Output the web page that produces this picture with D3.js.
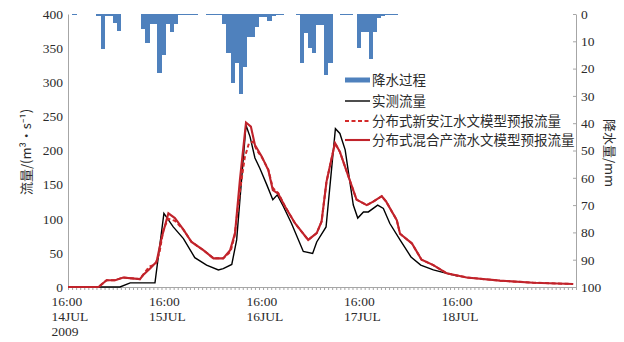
<!DOCTYPE html>
<html><head><meta charset="utf-8">
<script src="https://cdn.jsdelivr.net/npm/d3@7"></script>
<style>
html,body{margin:0;padding:0;background:#fff;}
svg{display:block;}
</style></head>
<body>
<svg id="chart" width="624" height="342"></svg>
<script>
// ---- data (hours since 16:00 14 JUL 2009) ----
const tickHours = [0, 24, 48, 72, 96];
const tickTimeLabels = ["16:00", "16:00", "16:00", "16:00", "16:00"];
const tickDateLabels = ["14JUL", "15JUL", "16JUL", "17JUL", "18JUL"];
const tickYearLabels = ["2009", "", "", "", ""];
const flowTicks = [0, 50, 100, 150, 200, 250, 300, 350, 400];
const rainTicks = [0, 10, 20, 30, 40, 50, 60, 70, 80, 90, 100];

const rainHours = [1, 7, 8, 9, 10, 11, 12, 18, 19, 20, 21, 22, 23, 24, 25, 26, 27, 28, 29, 30, 31,
  34, 35, 36, 37, 38, 39, 40, 41, 42, 43, 44, 45, 46, 47, 48, 49, 50, 51, 52,
  56, 57, 58, 59, 60, 61, 62, 63, 64, 67, 68, 69, 71, 72, 73, 74, 75, 76, 77, 78, 79, 80];
const rainValues = [0.3, 0.7, 12.9, 0.7, 0.7, 3.4, 6.2, 5.6, 10.5, 3.7, 3.7, 21.5, 15, 3.7, 6.6, 3.7, 0.4, 0.4, 0.4, 0.4, 0.4,
  0.4, 0.4, 0.4, 0.4, 3.5, 14.4, 25.4, 18, 29.4, 19.3, 8.3, 8.3, 4.6, 1.2, 1.2, 2.4, 0.6, 0.4, 0.4,
  0.4, 18, 7, 12.6, 14.4, 3.9, 3.9, 22.3, 18, 0.3, 0.3, 0.3, 12.6, 6.5, 6.5, 16.6, 6.5, 1.5, 0.7, 0.3, 0.3, 0.3];

const obsHours = [0, 12.8, 15.3, 21.4, 23.6, 25.9, 28.4, 31.2, 34.1, 37, 38.2, 40.3, 41.5, 43.8, 44.8, 46, 47.2, 48.9, 50.4, 51.5, 53, 55, 57.9, 60.2, 61.2, 63.5, 65.8, 66.9, 68.2, 70.2, 71.3, 72.7, 73.9, 76.2, 77.6, 79.2, 81.7, 84.4, 86.8, 89.9, 93.2, 96];
const obsFlow  = [0, 0, 6, 6, 108, 88, 71, 43, 32, 25, 27, 33, 69, 237, 220, 189, 174, 150, 128, 135, 118, 93, 52, 49, 66, 88, 232, 225, 201, 120, 101, 110, 110, 120, 115, 93, 69, 44, 32, 25, 20, 16];

const xajHours = [0, 7.5, 9.5, 11.6, 13.6, 15.7, 17.7, 18.5, 20, 21.5, 22.5, 23.5, 24.7, 26.3, 28.4, 30.4, 33.3, 35.8, 38.2, 40, 41, 42.3, 43.5, 44.5, 45.5, 46.5, 47.7, 49.3, 50.4, 51.7, 53.4, 55.9, 59.1, 61.2, 62.4, 63.6, 65.7, 66.9, 69, 71, 73.5, 75.1, 77.2, 78.3, 80.9, 81.7, 84.6, 87, 89.9, 93.2, 98.1, 106.3, 114.5, 124.3];
const xajFlow  = [0, 0, 10, 10, 14, 12.7, 11.5, 18, 30, 33, 50, 85, 100, 97, 84, 66, 54, 42, 42, 52, 75, 140, 190, 210, 213, 200, 190, 172, 145, 138, 118, 93, 69, 79, 96, 154, 211, 198, 162, 128, 120, 125, 133, 125, 98, 78, 64, 40, 32, 20, 14, 9.3, 6.3, 4.4];

const mixHours = [0, 7.5, 9.5, 11.6, 13.6, 15.7, 17.7, 18.5, 20.2, 21.8, 23, 24.7, 26.3, 28.4, 30.4, 33.3, 35.8, 38.2, 39.9, 41.1, 42.3, 43.8, 45, 46, 47.7, 49.3, 50.4, 51.7, 53.4, 55.9, 59.1, 61.2, 62.4, 63.6, 65.7, 66.9, 69, 71, 73.5, 75.1, 77.2, 78.3, 80.9, 81.7, 84.6, 87, 89.9, 93.2, 98.1, 106.3, 114.5, 124.3];
const mixFlow  = [0, 0, 10, 10, 14, 12.7, 11.5, 17.5, 27, 37, 71, 108, 101, 84, 66, 54, 42, 42, 54, 79, 157, 241, 235, 208, 191, 171, 142, 137, 118, 93, 69, 79, 96, 154, 211, 198, 162, 128, 120, 125, 133, 125, 98, 78, 64, 40, 32, 20, 14, 9.3, 6.3, 4.4];

const legendLabels = ["降水过程", "实测流量", "分布式新安江水文模型预报流量", "分布式混合产流水文模型预报流量"];

// ---- drawing ----
const svg = d3.select("#chart");
const numFont = "'Liberation Serif','Times New Roman',serif";
const cjkFont = "'Noto Sans CJK SC','Noto Sans',sans-serif";
const axisColor = "#a6a6a6";
const textColor = "#2b2b2b";
const blue = "#4f81bd", red = "#c0232b", black = "#000";

const x = d3.scaleLinear().domain([0, 125]).range([68, 576]);
const yQ = d3.scaleLinear().domain([0, 400]).range([287, 14]);
const yR = d3.scaleLinear().domain([0, 100]).range([14, 287]);

// rain bars
svg.append("g").attr("shape-rendering", "crispEdges").selectAll("rect")
  .data(rainHours.map((h, i) => ({h, v: rainValues[i]})))
  .join("rect")
  .attr("x", d => x(d.h))
  .attr("width", d => x(d.h + 1) - x(d.h) + 0.4)
  .attr("y", yR(0))
  .attr("height", d => Math.max(1, yR(d.v) - yR(0)))
  .attr("fill", blue);

// axes
const gL = svg.append("g").attr("transform", `translate(${x(0)},0)`)
  .call(d3.axisLeft(yQ).tickValues(flowTicks).tickSize(0).tickPadding(5));
const gR = svg.append("g").attr("transform", `translate(${x(125)},0)`)
  .call(d3.axisRight(yR).tickValues(rainTicks).tickSizeInner(-3).tickSizeOuter(0).tickPadding(5));
const gX = svg.append("g").attr("transform", `translate(0,${yQ(0)})`)
  .call(d3.axisBottom(x).tickValues(d3.range(0, 126, 1)).tickSize(3).tickSizeOuter(0).tickFormat(""));
[gL, gR, gX].forEach(g => {
  g.selectAll("path.domain").attr("stroke", axisColor).attr("stroke-width", 1);
  g.selectAll(".tick line").attr("stroke", axisColor);
  g.selectAll("text").attr("font-family", numFont).attr("font-size", 13.5).attr("fill", textColor);
});

// x labels
const xl = svg.append("g");
tickHours.forEach((h, i) => {
  const t = xl.append("text").attr("font-family", numFont).attr("font-size", 13.5).attr("fill", textColor);
  t.append("tspan").attr("x", x(h) - 16.5).attr("y", 306).text(tickTimeLabels[i]);
  t.append("tspan").attr("x", x(h) - 16.5).attr("y", 321).text(tickDateLabels[i]);
  if (tickYearLabels[i]) t.append("tspan").attr("x", x(h) - 16.5).attr("y", 336).text(tickYearLabels[i]);
});

// lines
const line = d3.line().x(d => x(d[0])).y(d => yQ(d[1]));
svg.append("path").datum(obsHours.map((h, i) => [h, obsFlow[i]]))
  .attr("d", line).attr("fill", "none").attr("stroke", black).attr("stroke-width", 1.4);
svg.append("path").datum(xajHours.map((h, i) => [h, xajFlow[i]]))
  .attr("d", line).attr("fill", "none").attr("stroke", "#d42a2a").attr("stroke-width", 2).attr("stroke-dasharray", "4,2.5");
svg.append("path").datum(mixHours.map((h, i) => [h, mixFlow[i]]))
  .attr("d", line).attr("fill", "none").attr("stroke", red).attr("stroke-width", 2.1);

// axis titles
svg.append("text").attr("transform", "translate(31,152) rotate(-90)")
  .attr("text-anchor", "middle").attr("font-family", cjkFont).attr("font-size", 13).attr("fill", textColor)
  .text("流量/(m³·s⁻¹)");
svg.append("text").attr("transform", "translate(605,153) rotate(90)")
  .attr("text-anchor", "middle").attr("font-family", cjkFont).attr("font-size", 13).attr("fill", textColor)
  .text("降水量/mm");

// legend
const lg = svg.append("g");
const rowsY = [80, 101, 121, 140];
lg.append("rect").attr("x", 345).attr("y", rowsY[0] - 2.5).attr("width", 25).attr("height", 5).attr("fill", blue);
lg.append("line").attr("x1", 345).attr("x2", 370).attr("y1", rowsY[1]).attr("y2", rowsY[1]).attr("stroke", black).attr("stroke-width", 1.4);
lg.append("line").attr("x1", 345).attr("x2", 370).attr("y1", rowsY[2]).attr("y2", rowsY[2]).attr("stroke", "#d42a2a").attr("stroke-width", 2).attr("stroke-dasharray", "4,2.5");
lg.append("line").attr("x1", 345).attr("x2", 370).attr("y1", rowsY[3]).attr("y2", rowsY[3]).attr("stroke", red).attr("stroke-width", 2.1);
legendLabels.forEach((s, i) => {
  lg.append("text").attr("x", 372).attr("y", rowsY[i]).attr("dy", "0.36em")
    .attr("font-family", cjkFont).attr("font-size", 13.5).attr("fill", textColor).text(s);
});
</script>
</body></html>
